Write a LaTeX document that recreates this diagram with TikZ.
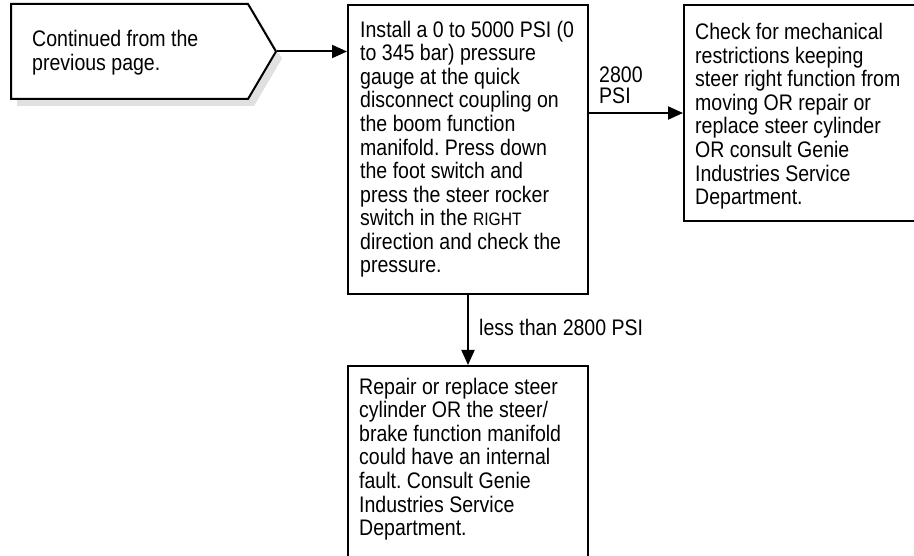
\documentclass[tikz,border=0pt]{standalone}
\usepackage{fontspec}
\setmainfont{Liberation Sans}[FakeStretch=0.868]
\usetikzlibrary{arrows.meta,shapes.symbols,shadows}
\frenchspacing
\begin{document}
\begin{tikzpicture}[x=1pt,y=-1pt,
  box/.style={draw=black, line width=2pt, fill=white, rectangle, inner sep=0pt, anchor=north west},
  txt/.style={inner sep=0pt, align=left, anchor=base west, font=\fontsize{22.5}{23.6}\selectfont},
  lbl/.style={inner sep=0pt, align=left, anchor=base west, font=\fontsize{22.5}{20.7}\selectfont},
  conn/.style={line width=2pt, -{Triangle[length=15pt,width=13pt]}}]
\useasboundingbox (0,0) rectangle (914,556);
\clip (0,0) rectangle (914,556);
\node[draw=black, line width=2pt, fill=white, shape=signal, signal to=east, signal pointer angle=119,
      minimum width=265pt, minimum height=95pt, inner sep=0pt, anchor=west,
      drop shadow={shadow xshift=6pt, shadow yshift=-7pt, fill=black!12, opacity=1}] (start) at (10,51.5) {};
\node[box, minimum width=240pt, minimum height=289pt] (main) at (347,4) {};
\node[box, minimum width=260pt, minimum height=216pt] (right) at (683,4) {};
\node[box, minimum width=240pt, minimum height=220pt] (bottom) at (347,365) {};
% anchors: base of the last line
\node[txt] (startT) at (32,70.3) {Continued from the\\previous page.};
\node[txt] (mainT) at (360,273) {Install a 0 to 5000 PSI (0\\to 345 bar) pressure\\gauge at the quick\\disconnect coupling on\\the boom function\\manifold. Press down\\the foot switch and\\press the steer rocker\\switch in the {\fontsize{18}{23.6}\selectfont RIGHT}\\direction and check the\\pressure.};
\node[txt] (rightT) at (695,204.7) {Check for mechanical\\restrictions keeping\\steer right function from\\moving OR repair or\\replace steer cylinder\\OR consult Genie\\Industries Service\\Department.};
\node[txt] (bottomT) at (359,535.6) {Repair or replace steer\\cylinder OR the steer/\\brake function manifold\\could have an internal\\fault. Consult Genie\\Industries Service\\Department.};
\node[lbl] (lbl1) at (599,103.2) {2800\\PSI};
\node[lbl] (lbl2) at (479,335.5) {less than 2800 PSI};
\draw[conn] (start.east) -- (start.east -| main.west);
\draw[conn] (main.east |- right.west) -- (right.west);
\draw[conn] (main.south) -- (bottom.north);
\end{tikzpicture}
\end{document}
